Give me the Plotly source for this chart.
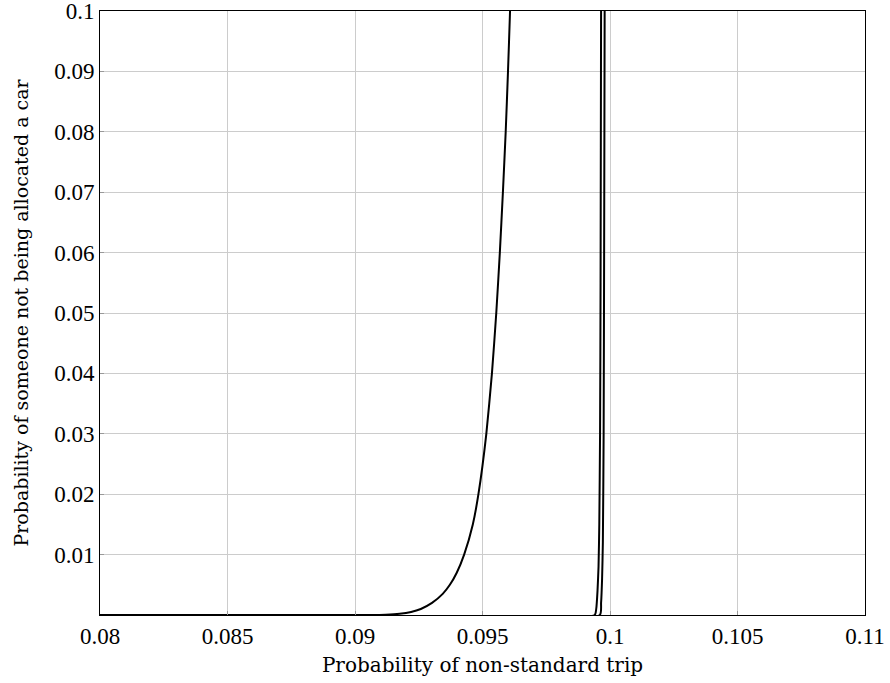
import plotly.graph_objects as go

# Curve 1 (smooth rise)
c1_x = [0.080, 0.0906, 0.0912, 0.09175, 0.0922, 0.09258, 0.09302, 0.09344, 0.09372, 0.09399,
        0.09428, 0.09462, 0.09484, 0.09515, 0.09537, 0.09554, 0.09568, 0.0958, 0.09591,
        0.0960, 0.09608, 0.09615]
c1_y = [0.0, 0.0, 0.00005, 0.0002, 0.0005, 0.001, 0.002, 0.0035, 0.005, 0.007,
        0.010, 0.015, 0.020, 0.030, 0.040, 0.050, 0.060, 0.070, 0.080,
        0.090, 0.100, 0.110]

# Curve 2 (near-vertical)
c2_x = [0.080, 0.0994, 0.09946, 0.09951, 0.09955, 0.09958, 0.09961, 0.09963, 0.09965, 0.09967]
c2_y = [0.0, 0.0, 0.001, 0.004, 0.008, 0.015, 0.03, 0.055, 0.10, 0.12]

# Curve 3 (near-vertical)
c3_x = [0.080, 0.0996, 0.09965, 0.09969, 0.09972, 0.09975, 0.09977, 0.09979, 0.0998]
c3_y = [0.0, 0.0, 0.002, 0.006, 0.012, 0.03, 0.06, 0.10, 0.12]

x_ticks = [0.08, 0.085, 0.09, 0.095, 0.1, 0.105, 0.11]
x_tick_labels = ["0.08", "0.085", "0.09", "0.095", "0.1", "0.105", "0.11"]
y_ticks = [0.01, 0.02, 0.03, 0.04, 0.05, 0.06, 0.07, 0.08, 0.09, 0.1]
y_tick_labels = ["0.01", "0.02", "0.03", "0.04", "0.05", "0.06", "0.07", "0.08", "0.09", "0.1"]

FONT = "Liberation Serif"
TFONT = "DejaVu Serif"

fig = go.Figure()
for xs, ys in [(c1_x, c1_y), (c2_x, c2_y), (c3_x, c3_y)]:
    fig.add_trace(go.Scatter(x=xs, y=ys, mode="lines",
                             line=dict(color="black", width=2, shape="spline", smoothing=0.5),
                             showlegend=False, hoverinfo="skip"))

fig.update_layout(
    width=890, height=683,
    margin=dict(l=100, r=25, t=11, b=68),
    paper_bgcolor="white", plot_bgcolor="white",
    font=dict(family=FONT, size=20, color="black"),
)
fig.update_xaxes(
    range=[0.08, 0.11], tickvals=x_ticks, ticktext=x_tick_labels,
    showgrid=True, gridcolor="#cccccc", gridwidth=1,
    showline=True, linecolor="black", linewidth=1, mirror=True,
    ticks="inside", ticklen=4, tickcolor="#999999",
    zeroline=False, tickfont=dict(family=FONT, size=23), automargin=False,
    ticklabeloverflow="allow",
    title=dict(text="Probability of non-standard trip", font=dict(family=TFONT, size=20), standoff=10),
)
fig.update_yaxes(
    range=[0, 0.1], tickvals=y_ticks, ticktext=y_tick_labels,
    showgrid=True, gridcolor="#cccccc", gridwidth=1,
    showline=True, linecolor="black", linewidth=1, mirror=True,
    ticks="inside", ticklen=4, tickcolor="#999999",
    zeroline=False, tickfont=dict(family=FONT, size=23), automargin=False,
    ticklabeloverflow="allow",
    title=dict(text="Probability of someone not being allocated a car", font=dict(family=TFONT, size=19), standoff=20),
)

fig.write_html("out.html", config={"displayModeBar": False},
               post_script="document.body.style.margin='0';document.body.style.padding='0';")
